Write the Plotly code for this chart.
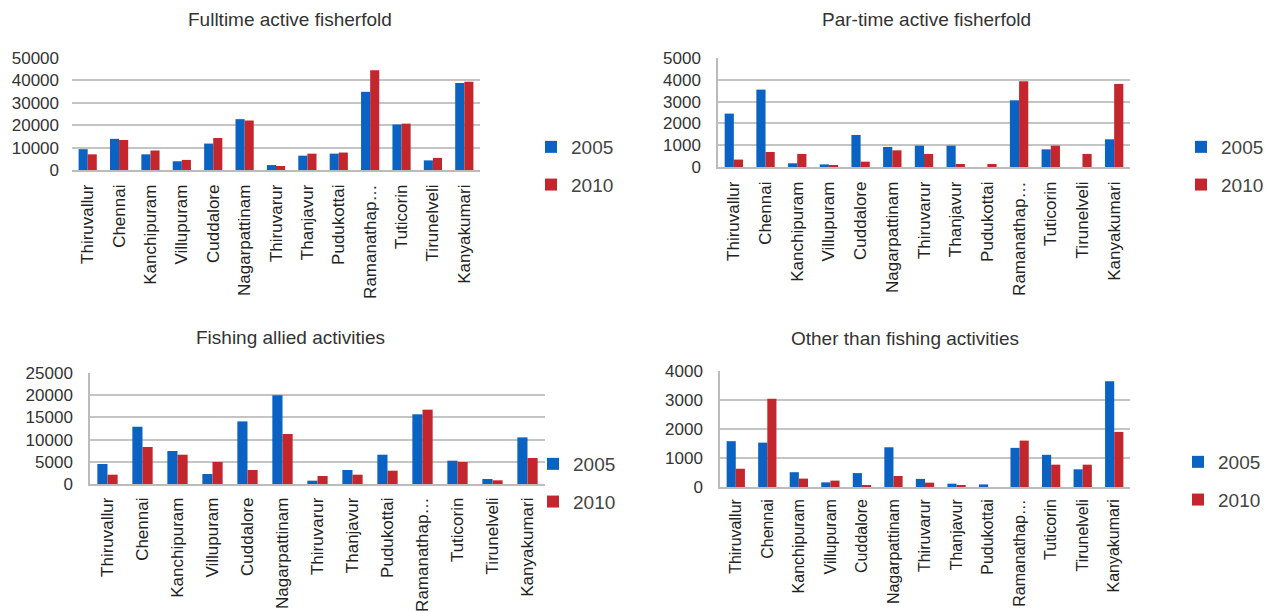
import plotly.graph_objects as go

districts = ["Thiruvallur", "Chennai", "Kanchipuram", "Villupuram", "Cuddalore",
             "Nagarpattinam", "Thiruvarur", "Thanjavur", "Pudukottai",
             "Ramanathapuram", "Tuticorin", "Tirunelveli", "Kanyakumari"]
tick_labels = ["Thiruvallur", "Chennai", "Kanchipuram", "Villupuram", "Cuddalore",
               "Nagarpattinam", "Thiruvarur", "Thanjavur", "Pudukottai",
               "Ramanathap…", "Tuticorin", "Tirunelveli", "Kanyakumari"]

titles = ["Fulltime active fisherfold", "Par-time active fisherfold",
          "Fishing allied activities", "Other than fishing activities"]
years = ["2005", "2010"]

fulltime_2005 = [9300, 13900, 7000, 3900, 11800, 22700, 2200, 6400, 7300, 34900, 20300, 4300, 38800]
fulltime_2010 = [7000, 13400, 8700, 4500, 14300, 22100, 1800, 7300, 7800, 44500, 20700, 5400, 39400]
parttime_2005 = [2450, 3550, 170, 120, 1470, 920, 980, 980, 0, 3060, 810, 0, 1270]
parttime_2010 = [340, 690, 600, 90, 245, 765, 600, 140, 140, 3930, 980, 600, 3810]
allied_2005 = [4500, 12900, 7430, 2250, 14100, 19970, 750, 3150, 6600, 15700, 5250, 1130, 10500]
allied_2010 = [2100, 8330, 6600, 4950, 3150, 11260, 1800, 2100, 3000, 16740, 4950, 830, 5860]
other_2005 = [1580, 1530, 510, 160, 480, 1370, 280, 115, 90, 1350, 1110, 610, 3650]
other_2010 = [630, 3040, 290, 220, 60, 380, 150, 60, 0, 1600, 770, 770, 1900]

y_max = [50000, 5000, 25000, 4000]
y_dtick = [10000, 1000, 5000, 1000]

BLUE = "#0A62C2"
RED = "#C4262E"
W, H = 1265, 612


def px(x):
    return x / W


def py(y):
    return 1 - y / H


# (plot x-range, plot y-range, legend left/top, title centre x/y, label font, label standoff)
panels = [
    (fulltime_2005, fulltime_2010, (72, 480), (58, 170), (531, 128), (290, 20), 17, 6),
    (parttime_2005, parttime_2010, (718, 1130), (58, 167), (1181, 128), (926, 20), 17, 6),
    (allied_2005, allied_2010, (90, 545), (373, 484), (533, 445), (290, 337), 17, 5),
    (other_2005, other_2010, (720, 1130), (371, 487), (1178, 443), (905, 338), 16, 4),
]

fig = go.Figure()
for i, (v05, v10, xr, yr, lg, tt, lfs, lso) in enumerate(panels):
    n = "" if i == 0 else str(i + 1)
    lname = "legend" + n
    for yr_name, vals, col in ((years[0], v05, BLUE), (years[1], v10, RED)):
        fig.add_trace(go.Bar(
            x=districts, y=vals, name=yr_name, marker_color=col,
            marker_line_width=0, xaxis="x" + n, yaxis="y" + n,
            legend=lname, legendgroup=lname + yr_name, showlegend=True,
        ))
    fig.layout["xaxis" + n] = dict(
        domain=[px(xr[0]), px(xr[1])], anchor="y" + n,
        tickmode="array", tickvals=districts, ticktext=tick_labels,
        tickangle=-90, tickfont=dict(size=lfs, color="#222"),
        showline=True, linecolor="#BBBBBB", linewidth=1.5,
        showgrid=False, ticks="", automargin=False, ticklabelstandoff=lso,
    )
    fig.layout["yaxis" + n] = dict(
        domain=[py(yr[1]), py(yr[0])], anchor="x" + n,
        range=[0, y_max[i]], dtick=y_dtick[i], tick0=0, tickformat="d",
        showgrid=True, gridcolor="#C4C4C4", gridwidth=1.5,
        showline=(i != 0), linecolor="#BBBBBB", linewidth=1.5,
        zeroline=False, tickfont=dict(size=17, color="#333"), ticks="",
        automargin=False, ticklabelstandoff=12,
    )
    fig.layout[lname] = dict(
        x=px(lg[0]), y=py(lg[1]), xanchor="left", yanchor="top",
        font=dict(size=19, color="#444"), tracegroupgap=10,
        bgcolor="rgba(0,0,0,0)", itemclick=False,
    )
    fig.add_annotation(
        text=titles[i], x=px(tt[0]), y=py(tt[1]),
        xref="paper", yref="paper", showarrow=False,
        font=dict(size=19, color="#333"), xanchor="center", yanchor="middle",
    )

fig.update_layout(
    width=W, height=H, margin=dict(l=0, r=0, t=0, b=0, autoexpand=False),
    paper_bgcolor="white", plot_bgcolor="white",
    barmode="group", bargap=0.42, bargroupgap=0,
    font=dict(family="Liberation Sans, Arial, sans-serif"),
    showlegend=True,
)

fig.write_html(
    "out.html",
    config={"displayModeBar": False},
    post_script="document.body.style.margin='0';document.body.style.overflow='hidden';",
)
